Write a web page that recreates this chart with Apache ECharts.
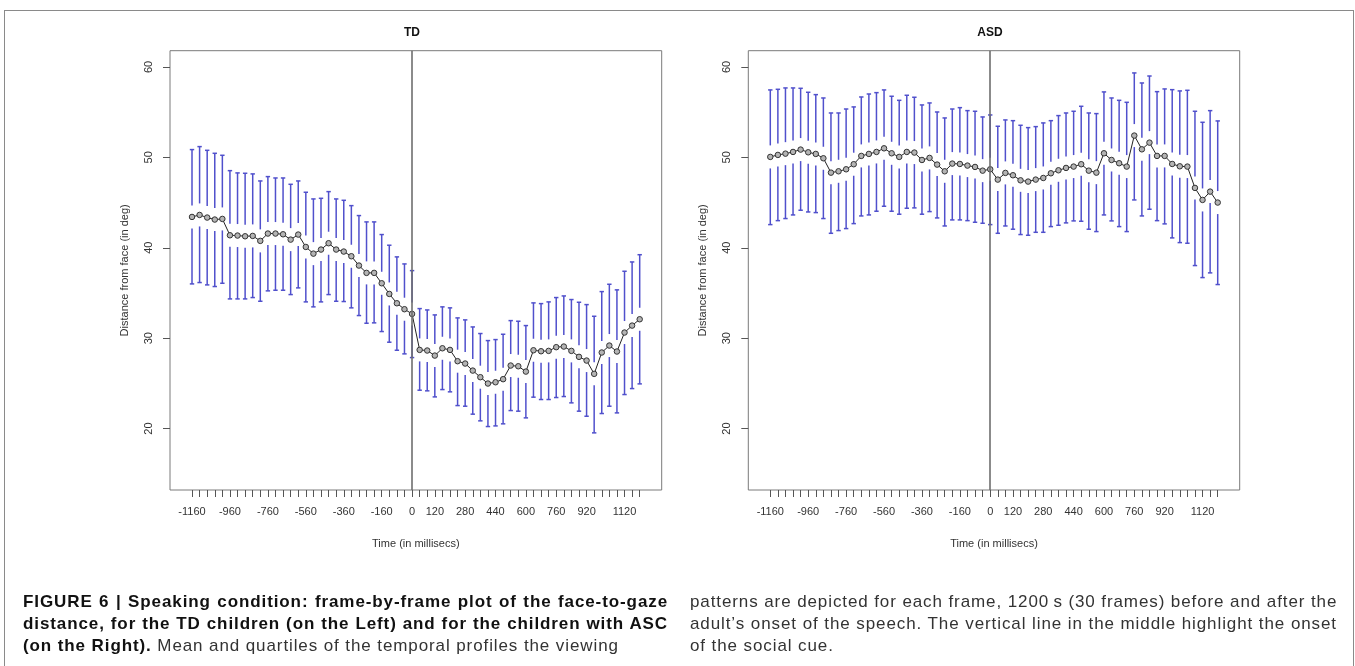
<!DOCTYPE html>
<html>
<head>
<meta charset="utf-8">
<script src="https://cdn.jsdelivr.net/npm/echarts@6/dist/echarts.min.js"></script>
<style>
  html, body { margin: 0; padding: 0; background: #fff; }
  #wrap { position: relative; width: 1355px; height: 666px; overflow: hidden; }
  #chart { position: absolute; left: 0; top: 0; width: 1355px; height: 666px; }
  #frame { position: absolute; left: 4px; top: 10px; width: 1348px; height: 700px;
           border-top: 1px solid #8a8a8a; border-left: 1px solid #8a8a8a; border-right: 1px solid #8a8a8a; }
  .cap { position: absolute; top: 591px; width: 645px; font-family: 'Liberation Sans', Arial, sans-serif;
         font-size: 17px; line-height: 22px; color: #333; letter-spacing: 0.9px; }
  .cap div { text-align: justify; text-align-last: justify; white-space: nowrap; }
  .cap div.last { text-align-last: left; }
  .cap b { font-weight: bold; color: #111; }
</style>
</head>
<body>
<div id="wrap">
  <div id="frame"></div>
  <div id="chart"></div>
  <div class="cap" style="left:23px;">
    <div><b>FIGURE 6 | Speaking condition: frame-by-frame plot of the face-to-gaze</b></div>
    <div><b>distance, for the TD children (on the Left) and for the children with ASC</b></div>
    <div class="last"><b>(on the Right).</b> Mean and quartiles of the temporal profiles the viewing</div>
  </div>
  <div class="cap" style="left:690px; width:647px;">
    <div>patterns are depicted for each frame, 1200&#8201;s (30 frames) before and after the</div>
    <div>adult’s onset of the speech. The vertical line in the middle highlight the onset</div>
    <div class="last">of the social cue.</div>
  </div>
</div>
<script>
// ---- data (time in ms, distance in deg) ----
const times = [-1160,-1120,-1080,-1040,-1000,-960,-920,-880,-840,-800,-760,-720,-680,-640,-600,-560,-520,-480,-440,-400,-360,-320,-280,-240,-200,-160,-120,-80,-40,0,40,80,120,160,200,240,280,320,360,400,440,480,520,560,600,640,680,720,760,800,840,880,920,960,1000,1040,1080,1120,1160,1200];
const xTickLabels = [-1160,-960,-760,-560,-360,-160,0,120,280,440,600,760,920,1120];
const yTickLabels = [20,30,40,50,60];
const panelTitles = ['TD', 'ASD'];

const tdMean = [43.41,43.63,43.34,43.12,43.19,41.38,41.35,41.27,41.31,40.76,
                41.57,41.57,41.49,40.9,41.46,40.09,39.35,39.8,40.5,39.8,
                39.58,39.06,38.03,37.22,37.22,36.07,34.89,33.86,33.2,32.68,
                28.7,28.63,28.07,28.88,28.7,27.45,27.19,26.41,25.68,24.98,
                25.12,25.46,26.97,26.89,26.3,28.66,28.55,28.59,29.0,29.07,
                28.59,27.93,27.52,26.05,28.41,29.18,28.52,30.62,31.39,32.09];
const tdUpper = [50.86,51.19,50.78,50.45,50.23,48.53,48.28,48.24,48.17,47.39,
                 47.87,47.72,47.72,47.02,47.39,46.14,45.4,45.47,46.21,45.4,
                 45.25,44.66,43.56,42.86,42.86,41.46,40.28,38.99,38.21,37.47,
                 33.27,33.12,32.57,33.46,33.35,32.24,32.02,31.24,30.51,29.73,
                 29.84,30.43,31.94,31.87,31.39,33.9,33.82,34.01,34.49,34.67,
                 34.27,33.97,33.71,32.42,35.15,35.96,35.34,37.4,38.43,39.23];
const tdLower = [36.0,36.15,35.89,35.71,36.07,34.34,34.34,34.34,34.49,34.08,
                 35.23,35.3,35.3,34.82,35.56,34.01,33.46,34.01,34.82,34.08,
                 34.05,33.35,32.5,31.65,31.69,30.73,29.55,28.66,28.26,27.85,
                 24.24,24.17,23.5,24.31,24.06,22.54,22.47,21.59,20.85,20.22,
                 20.29,20.52,21.99,21.92,21.18,23.47,23.21,23.21,23.43,23.54,
                 22.84,21.92,21.36,19.52,21.66,22.47,21.73,23.76,24.42,24.94];

const asdMean = [50.05,50.27,50.41,50.6,50.86,50.56,50.38,49.9,48.31,48.46,
                 48.68,49.24,50.16,50.38,50.6,51.0,50.45,50.05,50.6,50.53,
                 49.71,49.94,49.2,48.46,49.31,49.27,49.09,48.94,48.53,48.68,
                 47.54,48.28,48.02,47.46,47.32,47.54,47.72,48.24,48.57,48.83,
                 48.98,49.24,48.53,48.31,50.45,49.71,49.35,48.98,52.41,50.89,
                 51.63,50.16,50.16,49.27,49.01,48.98,46.62,45.29,46.21,45.0];
const asdUpper = [57.46,57.53,57.68,57.68,57.64,57.2,56.94,56.57,54.91,54.91,
                  55.35,55.58,56.68,57.01,57.16,57.46,56.76,56.31,56.87,56.65,
                  55.8,56.02,55.02,54.36,55.35,55.5,55.17,55.1,54.47,54.69,
                  53.44,54.14,54.06,53.55,53.29,53.4,53.81,54.06,54.62,54.91,
                  55.1,55.65,54.91,54.84,57.24,56.57,56.31,56.09,59.34,58.23,
                  59.0,57.27,57.57,57.49,57.35,57.42,55.1,53.88,55.17,54.03];
const asdLower = [42.56,43.0,43.23,43.63,44.15,43.96,43.89,43.23,41.6,41.9,
                  42.12,42.67,43.52,43.63,44.04,44.59,44.04,43.71,44.37,44.41,
                  43.71,44.0,43.3,42.41,43.08,43.08,43.0,42.82,42.71,42.56,
                  41.6,42.41,42.05,41.46,41.38,41.71,41.71,42.34,42.49,42.75,
                  42.97,42.93,42.05,41.79,43.63,42.97,42.34,41.79,45.29,43.52,
                  44.26,43.0,42.64,41.09,40.57,40.5,38.03,36.7,37.22,35.93];

// ---- chart ----
const FONT = "'Liberation Sans', Arial, sans-serif";
const BAR = '#5050cc';
const chart = echarts.init(document.getElementById('chart'), null, { renderer: 'canvas' });

function errRows(lo, hi, m) { return times.map((t, i) => [t, lo[i], hi[i], m[i]]); }
function meanRows(m) { return times.map((t, i) => [t, m[i]]); }

function renderBar(params, api) {
  const t = api.value(0), lo = api.value(1), hi = api.value(2), m = api.value(3);
  const pm = api.coord([t, m]), pl = api.coord([t, lo]), ph = api.coord([t, hi]);
  const x = pm[0], gap = 11.5, cap = 2.2;
  const st = { stroke: BAR, lineWidth: 1.5 };
  const ch = [];
  if (ph[1] < pm[1] - gap) ch.push({ type: 'line', shape: { x1: x, y1: ph[1], x2: x, y2: pm[1] - gap }, style: st });
  if (pl[1] > pm[1] + gap) ch.push({ type: 'line', shape: { x1: x, y1: pm[1] + gap, x2: x, y2: pl[1] }, style: st });
  ch.push({ type: 'line', shape: { x1: x - cap, y1: ph[1], x2: x + cap, y2: ph[1] }, style: st });
  ch.push({ type: 'line', shape: { x1: x - cap, y1: pl[1], x2: x + cap, y2: pl[1] }, style: st });
  return { type: 'group', children: ch };
}

const grids = [
  { left: 170, top: 50.7, width: 491.7, height: 439.3, show: true, borderColor: '#7a7a7a', borderWidth: 1, backgroundColor: 'transparent' },
  { left: 748.3, top: 50.7, width: 491.4, height: 439.3, show: true, borderColor: '#7a7a7a', borderWidth: 1, backgroundColor: 'transparent' }
];

function xAxisCfg(gi) {
  return {
    gridIndex: gi, type: 'value', min: -1276, max: 1316, position: 'bottom',
    axisLine: { show: false, onZero: false },
    splitLine: { show: false },
    axisTick: { show: true, customValues: times, length: 7, lineStyle: { color: '#555', width: 1 } },
    axisLabel: { customValues: xTickLabels, fontSize: 11, color: '#333', fontFamily: FONT, margin: 16,
                 formatter: v => String(v) },
    name: 'Time (in millisecs)', nameLocation: 'middle', nameGap: 48,
    nameTextStyle: { fontSize: 11, color: '#333', fontFamily: FONT }
  };
}
function yAxisCfg(gi) {
  return {
    gridIndex: gi, type: 'value', min: 13.2, max: 61.8, position: 'left',
    axisLine: { show: false, onZero: false },
    splitLine: { show: false },
    axisTick: { show: true, customValues: yTickLabels, length: 7, lineStyle: { color: '#555', width: 1 } },
    axisLabel: { customValues: yTickLabels, rotate: 90, fontSize: 11, color: '#333', fontFamily: FONT, margin: 16,
                 formatter: v => String(v) },
    name: 'Distance from face (in deg)', nameLocation: 'middle', nameGap: 40, nameRotate: 90,
    nameTextStyle: { fontSize: 11, color: '#333', fontFamily: FONT }
  };
}

function seriesFor(gi, lo, hi, m) {
  return [
    {
      type: 'custom', xAxisIndex: gi, yAxisIndex: gi, data: errRows(lo, hi, m),
      renderItem: renderBar, encode: { x: 0, y: [1, 2, 3] }, silent: true, z: 2
    },
    {
      type: 'line', xAxisIndex: gi, yAxisIndex: gi, data: meanRows(m),
      symbol: 'circle', symbolSize: 5.5, showSymbol: true,
      lineStyle: { color: '#222', width: 1 },
      itemStyle: { color: '#b4b4b4', borderColor: '#333', borderWidth: 1 },
      silent: true, animation: false, z: 4,
      markLine: {
        silent: true, symbol: 'none', animation: false,
        lineStyle: { color: '#6e6e6e', width: 1.6, type: 'solid' },
        label: { show: false },
        data: [{ xAxis: 0 }]
      }
    }
  ];
}

chart.setOption({
  animation: false,
  backgroundColor: 'transparent',
  graphic: [
    { type: 'text', x: 412, y: 33, silent: true,
      style: { text: panelTitles[0], font: 'bold 12px ' + FONT, fill: '#111', textAlign: 'center', textVerticalAlign: 'middle' } },
    { type: 'text', x: 990, y: 33, silent: true,
      style: { text: panelTitles[1], font: 'bold 12px ' + FONT, fill: '#111', textAlign: 'center', textVerticalAlign: 'middle' } }
  ],
  grid: grids,
  xAxis: [xAxisCfg(0), xAxisCfg(1)],
  yAxis: [yAxisCfg(0), yAxisCfg(1)],
  series: [].concat(seriesFor(0, tdLower, tdUpper, tdMean), seriesFor(1, asdLower, asdUpper, asdMean))
});
</script>
</body>
</html>
